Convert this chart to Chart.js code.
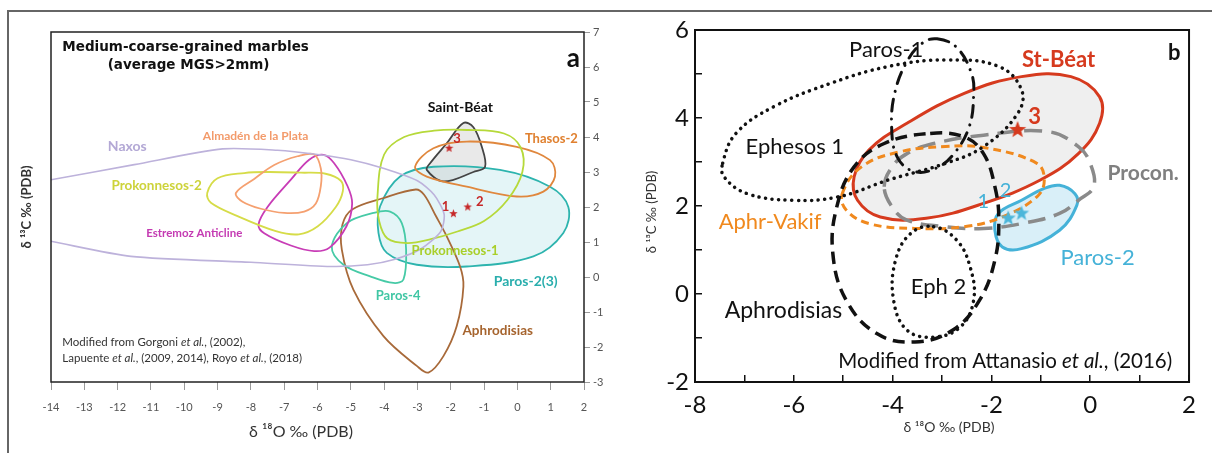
<!DOCTYPE html>
<html>
<head>
<meta charset="utf-8">
<script src="https://cdn.jsdelivr.net/npm/chart.js@4.4.1/dist/chart.umd.min.js"></script>
<style>
html, body { margin: 0; padding: 0; background: #fff; }
#wrap { position: relative; width: 1212px; height: 453px; overflow: hidden; }
#frame { position: absolute; left: 7px; top: 10px; width: 1230px; height: 470px; border-top: 2px solid #666; border-left: 2px solid #666; }
#chartA { position: absolute; left: 0; top: 0; width: 640px; height: 453px; }
#chartB { position: absolute; left: 600px; top: 0; width: 612px; height: 453px; }
</style>
</head>
<body>
<div id="wrap">
  <div id="frame"></div>
  <canvas id="chartA" width="640" height="453"></canvas>
  <canvas id="chartB" width="612" height="453"></canvas>
</div>
<script>
// ---- panel a: medium-coarse-grained marbles (d18O, d13C) ----
const naxos = [[-14, 2.78], [-11.5, 3.21], [-8.85, 3.66], [-7.2, 3.62], [-6, 3.5], [-5, 3.35], [-4, 3.1], [-3, 2.75],
  [-2.5, 2.35], [-2.2, 1.8], [-2.3, 1.3], [-2.9, 0.8], [-3.7, 0.5], [-4.5, 0.35], [-5.6, 0.3], [-8, 0.42], [-11.6, 0.59], [-14, 1.02]];
const almaden = [[-8.45, 2.4], [-7.9, 2.8], [-7.3, 3.2], [-6.6, 3.45], [-6.1, 3.5], [-5.9, 3.1], [-5.9, 2.6], [-6.05, 2.1],
  [-6.4, 1.87], [-7.0, 1.83], [-7.7, 1.95], [-8.25, 2.15]];
const prok2 = [[-9.31, 2.4], [-9.0, 2.82], [-8.2, 2.97], [-7.48, 3.0], [-6.5, 2.98], [-5.76, 2.95], [-5.3, 2.75], [-5.24, 2.45],
  [-5.45, 2.0], [-5.99, 1.45], [-6.56, 1.22], [-7.25, 1.31], [-8.4, 1.74], [-9.2, 2.12]];
const estremoz = [[-5.82, 3.49], [-5.5, 3.25], [-5.1, 2.6], [-4.96, 2.1], [-5.13, 1.45], [-5.64, 0.84], [-6.1, 0.74],
  [-6.8, 0.9], [-7.6, 1.25], [-7.77, 1.5], [-7.5, 2.0], [-6.8, 2.78], [-6.25, 3.35]];
const prok1 = [[-4.2, 2.3], [-4.0, 3.5], [-3.4, 4.0], [-2.5, 4.18], [-1.5, 4.2], [-0.4, 4.1], [0.1, 3.7], [0.15, 3.0],
  [-0.3, 2.2], [-1.0, 1.6], [-1.8, 1.3], [-2.6, 1.08], [-3.3, 0.97], [-3.9, 1.1], [-4.15, 1.6]];
const sbeat = [[-1.62, 4.4], [-1.32, 4.28], [-1.07, 3.73], [-0.97, 3.15], [-1.32, 3.0], [-2.22, 2.73], [-2.72, 3.06],
  [-2.62, 3.25], [-2.12, 3.82]];
const thasos = [[-3.07, 3.15], [-2.52, 3.68], [-1.52, 3.87], [-0.02, 3.72], [0.98, 3.34], [1.13, 2.87], [0.78, 2.44],
  [-0.02, 2.3], [-1.52, 2.58], [-2.72, 2.87]];
const paros23 = [[-4.12, 2.02], [-3.52, 2.87], [-2.52, 3.15], [-0.52, 3.06], [0.98, 2.58], [1.53, 2.0], [1.38, 1.26],
  [0.48, 0.59], [-1.52, 0.3], [-3.02, 0.35], [-3.92, 0.69], [-4.17, 1.26]];
const paros4 = [[-5.57, 0.86], [-5.12, 1.54], [-4.32, 1.83], [-3.82, 1.87], [-3.47, 1.54], [-3.34, 0.78], [-3.42, -0.07],
  [-3.72, -0.17], [-4.42, 0.02], [-5.22, 0.35]];
const aphroA = [[-3.05, 2.5], [-2.8, 2.35], [-2.45, 1.75], [-2.12, 1.16], [-1.72, 0.3], [-1.62, -0.27], [-1.82, -1.4],
  [-2.22, -2.26], [-2.67, -2.73], [-3.02, -2.54], [-4.02, -1.69], [-4.92, -0.37], [-5.27, 0.78], [-5.25, 1.5],
  [-4.96, 1.93], [-4.04, 2.25]];
const aStars = [[-2.05, 3.68], [-1.92, 1.81], [-1.49, 2.0]];
const aStarNames = ['3', '1', '2'];
const aXTickLabels = [-14, -13, -12, -11, -10, -9, -8, -7, -6, -5, -4, -3, -2, -1, 0, 1, 2];
const aYTickLabels = [-3, -2, -1, 0, 1, 2, 3, 4, 5, 6, 7];

// ---- panel b: Attanasio et al. fields ----
const ephesos1 = [[-7.44, 2.97], [-7.17, 3.65], [-6.4, 4.26], [-5.25, 4.79], [-4.09, 5.17], [-2.93, 5.32], [-1.85, 5.17],
  [-1.39, 4.64], [-1.47, 4.1], [-2.16, 3.35], [-2.93, 2.97], [-4.09, 2.59], [-5.09, 2.21], [-6.02, 2.13], [-6.94, 2.28], [-7.41, 2.66]];
const paros1 = [[-3.1, 5.8], [-2.7, 5.6], [-2.4, 5.0], [-2.36, 4.5], [-2.45, 3.8], [-2.75, 3.2], [-3.1, 2.87], [-3.55, 2.78],
  [-3.9, 3.1], [-4.02, 3.8], [-3.95, 4.6], [-3.7, 5.3], [-3.4, 5.7]];
const stBeat = [[-4.78, 2.66], [-4.48, 3.27], [-3.71, 3.88], [-2.55, 4.56], [-1.39, 4.94], [-0.39, 4.94], [0.19, 4.48],
  [0.19, 3.88], [-0.24, 3.19], [-1.01, 2.59], [-2.16, 2.06], [-3.32, 1.72], [-4.25, 1.75], [-4.71, 2.13]];
const procon = [[-4.17, 2.44], [-4.01, 2.89], [-3.71, 3.19], [-3.17, 3.42], [-2.16, 3.61], [-0.85, 3.69], [-0.24, 3.35],
  [0.0, 2.97], [0.07, 2.44], [-0.24, 2.13], [-0.62, 1.83], [-1.39, 1.6], [-2.16, 1.49], [-2.93, 1.53], [-3.71, 1.68], [-4.01, 1.98]];
const aphrVakif = [[-5.02, 2.28], [-4.63, 2.89], [-3.86, 3.23], [-2.93, 3.35], [-2.16, 3.33], [-1.08, 2.97], [-0.93, 2.59],
  [-1.08, 2.21], [-1.78, 1.75], [-2.55, 1.53], [-3.55, 1.49], [-4.48, 1.6], [-4.94, 1.91]];
const aphroB = [[-3.24, 3.65], [-2.55, 3.57], [-2.16, 3.19], [-1.93, 2.44], [-1.85, 1.68], [-1.93, 0.77], [-2.24, -0.14],
  [-2.78, -0.82], [-3.55, -1.09], [-4.32, -0.9], [-4.94, -0.14], [-5.21, 0.92], [-5.13, 1.98], [-4.78, 2.89], [-4.17, 3.42]];
const eph2 = [[-3.17, 1.53], [-2.7, 1.22], [-2.43, 0.61], [-2.36, -0.14], [-2.63, -0.75], [-3.17, -0.98], [-3.71, -0.82],
  [-3.98, -0.14], [-3.94, 0.77], [-3.63, 1.38]];
const paros2 = [[-0.62, 2.47], [-0.31, 2.28], [-0.27, 2.02], [-0.62, 1.45], [-1.39, 1.03], [-1.78, 1.07], [-1.93, 1.45],
  [-1.86, 1.83], [-1.39, 2.13], [-0.93, 2.4]];
const bRedStars = [[-1.47, 3.73]];
const bBlueStars = [[-1.66, 1.72], [-1.39, 1.83]];
const bXTickLabels = [-8, -6, -4, -2, 0, 2];
const bYTickLabels = [-2, 0, 2, 4, 6];

// closed outlines: let chart.js treat the line as a loop (smooth join + closed path)
const loopPlugin = {
  id: 'loop',
  afterDatasetUpdate(chart, args) {
    const ds = chart.data.datasets[args.index];
    const line = args.meta.dataset;
    if (ds.closed && line) {
      line._loop = true;
      line._fullLoop = true;
    }
  }
};

function boxPlugin(width, color) {
  return {
    id: 'box',
    afterDatasetsDraw(chart) {
      const a = chart.chartArea, ctx = chart.ctx;
      ctx.save();
      ctx.lineWidth = width;
      ctx.strokeStyle = color;
      ctx.strokeRect(a.left, a.top, a.right - a.left, a.bottom - a.top);
      ctx.restore();
    }
  };
}

// text notes: at data coords (or canvas px when px:true), optional pixel offset, italic runs
function notesPlugin(items) {
  return {
    id: 'notes',
    afterDatasetsDraw(chart) {
      const ctx = chart.ctx, xs = chart.scales.x, ys = chart.scales.y;
      items.forEach(it => {
        let px = it.px ? it.at[0] : xs.getPixelForValue(it.at[0]);
        let py = it.px ? it.at[1] : ys.getPixelForValue(it.at[1]);
        if (it.off) { px += it.off[0]; py += it.off[1]; }
        ctx.save();
        ctx.translate(px, py);
        if (it.rot) ctx.rotate(it.rot);
        ctx.fillStyle = it.color || '#111';
        ctx.textBaseline = 'middle';
        ctx.textAlign = 'left';
        const runs = Array.isArray(it.text) ? it.text : [[it.text, '']];
        let w = 0;
        runs.forEach(r => { ctx.font = r[1] + it.font; w += ctx.measureText(r[0]).width; });
        let x = it.align === 'left' ? 0 : -w / 2;
        runs.forEach(r => {
          ctx.font = r[1] + it.font;
          ctx.fillText(r[0], x, 0);
          x += ctx.measureText(r[0]).width;
        });
        ctx.restore();
      });
    }
  };
}

function starImg(r, color) {
  const c = document.createElement('canvas');
  const s = Math.ceil(r * 2 + 2);
  c.width = c.height = s;
  const g = c.getContext('2d');
  g.fillStyle = color;
  g.beginPath();
  for (let i = 0; i < 10; i++) {
    const rr = i % 2 ? r * 0.42 : r;
    const ang = -Math.PI / 2 + i * Math.PI / 5;
    g.lineTo(s / 2 + rr * Math.cos(ang), s / 2 + rr * Math.sin(ang));
  }
  g.closePath();
  g.fill();
  return c;
}

const xy = pts => pts.map(p => ({ x: p[0], y: p[1] }));

function shape(pts, o) {
  return Object.assign({
    data: xy(pts), pointRadius: 0, fill: false, tension: 0.35, borderWidth: 1.8, closed: true
  }, o);
}

function stars(pts, img) {
  return { data: xy(pts), showLine: false, pointStyle: img, pointRadius: 6, borderWidth: 0 };
}

const noAnim = {
  responsive: false,
  animation: false,
  events: [],
  plugins: { legend: { display: false }, tooltip: { enabled: false }, filler: { drawTime: 'beforeDatasetsDraw' } }
};

// ---------------- chart a ----------------
const lab = (text, at, font, color, extra) => Object.assign({ text, at, font, color }, extra || {});

const aNotes = [
  lab('Medium-coarse-grained marbles', [-9.96, 6.57], 'bold 13.5px "DejaVu Sans"', '#111'),
  lab('(average MGS>2mm)', [-9.87, 6.03], 'bold 13.5px "DejaVu Sans"', '#111'),
  lab('a', [1.68, 6.25], 'bold 26px Lato', '#111'),
  lab('Naxos', [-11.71, 3.74], 'bold 14px Lato', '#b3a8d5'),
  lab('Almadén de la Plata', [-7.86, 4.03], 'bold 12px Lato', '#f39b6b'),
  lab('Prokonnesos-2', [-10.83, 2.6], 'bold 13.5px Lato', '#cdd33a'),
  lab('Saint-Béat', [-1.71, 4.85], 'bold 14px Lato', '#111'),
  lab('Thasos-2', [1.02, 3.94], 'bold 13px Lato', '#e0802f'),
  lab('Estremoz Anticline', [-9.7, 1.24], 'bold 11.5px Lato', '#c43ab2'),
  lab('Prokonnesos-1', [-1.87, 0.75], 'bold 13px Lato', '#a9cf2a'),
  lab('Paros-2(3)', [0.25, -0.13], 'bold 14px Lato', '#2aaead'),
  lab('Paros-4', [-3.58, -0.53], 'bold 13px Lato', '#40c6a4'),
  lab('Aphrodisias', [-0.59, -1.53], 'bold 13.5px Lato', '#a6642e'),
  lab([['Modified from Gorgoni ', ''], ['et al.', 'italic '], [', (2002),', '']], [-13.66, -1.87], '11.5px Lato', '#333', { align: 'left' }),
  lab([['Lapuente ', ''], ['et al.', 'italic '], [', (2009, 2014), Royo ', ''], ['et al.', 'italic '], [', (2018)', '']],
    [-13.66, -2.33], '11.5px Lato', '#333', { align: 'left' }),
  lab(aStarNames[0], aStars[0], 'bold 13px Lato', '#c62828', { off: [8, -9] }),
  lab(aStarNames[1], aStars[1], 'bold 13px Lato', '#c62828', { off: [-8, -7] }),
  lab(aStarNames[2], aStars[2], 'bold 13px Lato', '#c62828', { off: [12, -5] }),
  lab('δ ¹³C ‰ (PDB)', [27, 207], 'bold 13px Lato', '#333', { px: true, rot: -Math.PI / 2 }),
  lab('δ ¹⁸O ‰ (PDB)', [301, 432], '16px Lato', '#333', { px: true })
];

new Chart(document.getElementById('chartA'), {
  type: 'line',
  data: {
    datasets: [
      stars(aStars, starImg(4.5, '#c62828')),
      shape(naxos, { borderColor: '#bdb2db', closed: false, tension: 0.25, borderWidth: 1.6 }),
      shape(almaden, { borderColor: '#f5a070' }),
      shape(prok2, { borderColor: '#d6dc48' }),
      shape(estremoz, { borderColor: '#c83cb6' }),
      shape(prok1, { borderColor: '#b6d93a' }),
      shape(thasos, { borderColor: '#e0873d' }),
      shape(paros4, { borderColor: '#46caa6' }),
      shape(aphroA, { borderColor: '#a86a3a' }),
      shape(sbeat, { borderColor: '#444', backgroundColor: 'rgba(200,200,200,0.4)', fill: 'shape' }),
      shape(paros23, { borderColor: '#2db4ae', backgroundColor: 'rgba(205,236,240,0.55)', fill: 'shape' })
    ]
  },
  options: Object.assign({}, noAnim, {
    layout: { padding: { left: 51, top: 32, right: 0, bottom: 0 } },
    scales: {
      x: {
        type: 'linear', position: 'bottom', min: -14, max: 2,
        afterFit: s => { s.height = 71; },
        border: { display: false },
        grid: { drawOnChartArea: false, tickLength: 8, color: '#9a9a9a' },
        ticks: {
          stepSize: 1, autoSkip: false, maxRotation: 0, padding: 11, color: '#555',
          font: { family: 'Lato', size: 11 },
          callback: v => aXTickLabels.includes(Math.round(v)) ? String(Math.round(v)) : ''
        }
      },
      y: {
        type: 'linear', position: 'right', min: -3, max: 7,
        afterFit: s => { s.width = 56; },
        border: { display: false },
        grid: { drawOnChartArea: false, tickLength: 6, color: '#9a9a9a' },
        ticks: {
          stepSize: 1, autoSkip: false, padding: 3, color: '#555',
          font: { family: 'Lato', size: 11 },
          callback: v => aYTickLabels.includes(Math.round(v)) ? String(Math.round(v)) : ''
        }
      }
    }
  }),
  plugins: [loopPlugin, boxPlugin(1.5, '#222'), notesPlugin(aNotes)]
});

// ---------------- chart b ----------------
const bNotes = [
  lab('Paros-1', [-4.13, 5.55], '22px Lato', '#111'),
  lab('St-Béat', [-0.64, 5.32], 'bold 22px Lato', '#d63a1e'),
  lab('b', [1.7, 5.48], 'bold 22px Lato', '#111'),
  lab('Ephesos 1', [-5.98, 3.35], '22px Lato', '#111'),
  lab('Procon.', [1.07, 2.74], 'bold 21px Lato', '#808080'),
  lab('Aphr-Vakif', [-6.48, 1.64], '22px Lato', '#f0891e'),
  lab('Paros-2', [0.15, 0.81], '22px Lato', '#45b2d8'),
  lab('Eph 2', [-3.07, 0.16], '22px Lato', '#111'),
  lab('Aphrodisias', [-6.21, -0.37], '23px Lato', '#111'),
  lab([['Modified from Attanasio ', ''], ['et al.', 'italic '], [', (2016)', '']], [-1.72, -1.54], '20.5px Lato', '#111'),
  lab('3', bRedStars[0], 'bold 22px Lato', '#d63a1e', { off: [17, -13] }),
  lab('1', bBlueStars[0], '20px Lato', '#45b2d8', { off: [-25, -17] }),
  lab('2', bBlueStars[1], '20px Lato', '#45b2d8', { off: [-16, -23] }),
  lab('δ ¹³C ‰ (PDB)', [52, 212], '13px Lato', '#333', { px: true, rot: -Math.PI / 2 }),
  lab('δ ¹⁸O ‰ (PDB)', [349, 427], '14px Lato', '#333', { px: true })
];

new Chart(document.getElementById('chartB'), {
  type: 'line',
  data: {
    datasets: [
      stars(bRedStars, starImg(9, '#d63a1e')),
      stars(bBlueStars, starImg(8, '#4bb6da')),
      shape(ephesos1, { borderColor: '#111', borderWidth: 3.5, borderDash: [0.1, 6.5], borderCapStyle: 'round', tension: 0.4 }),
      shape(eph2, { borderColor: '#111', borderWidth: 3.5, borderDash: [0.1, 6.5], borderCapStyle: 'round', tension: 0.4 }),
      shape(paros1, { borderColor: '#111', borderWidth: 3, borderDash: [12, 8, 0.1, 8], borderCapStyle: 'round', tension: 0.4 }),
      shape(aphroB, { borderColor: '#111', borderWidth: 3.5, borderDash: [12, 7], tension: 0.4 }),
      shape(aphrVakif, { borderColor: '#f0891e', borderWidth: 3, borderDash: [8, 5], tension: 0.4 }),
      shape(procon, { borderColor: '#8a8a8a', borderWidth: 3.5, borderDash: [18, 9], tension: 0.4 }),
      shape(paros2, { borderColor: '#45b2d8', borderWidth: 3, backgroundColor: '#d9eff8', fill: 'shape', tension: 0.4 }),
      shape(stBeat, { borderColor: '#d63a1e', borderWidth: 3, backgroundColor: 'rgba(228,228,228,0.6)', fill: 'shape', tension: 0.4 })
    ]
  },
  options: Object.assign({}, noAnim, {
    layout: { padding: { left: 0, top: 30, right: 12, bottom: 0 } },
    scales: {
      x: {
        type: 'linear', position: 'bottom', min: -8, max: 2,
        afterFit: s => { s.height = 71; },
        border: { display: false },
        grid: { drawOnChartArea: false, tickLength: -7, color: '#111', lineWidth: 1.5 },
        ticks: {
          stepSize: 1, autoSkip: false, maxRotation: 0, padding: 16, color: '#111',
          font: { family: 'Lato', size: 24 },
          callback: v => bXTickLabels.includes(Math.round(v)) ? String(Math.round(v)) : ''
        }
      },
      y: {
        type: 'linear', position: 'left', min: -2, max: 6,
        afterFit: s => { s.width = 95; },
        border: { display: false },
        grid: { drawOnChartArea: false, tickLength: -7, color: '#111', lineWidth: 1.5 },
        ticks: {
          stepSize: 1, autoSkip: false, padding: 13, color: '#111',
          font: { family: 'Lato', size: 24 },
          callback: v => bYTickLabels.includes(Math.round(v)) ? String(Math.round(v)) : ''
        }
      }
    }
  }),
  plugins: [loopPlugin, boxPlugin(2, '#111'), notesPlugin(bNotes)]
});
</script>
</body>
</html>
